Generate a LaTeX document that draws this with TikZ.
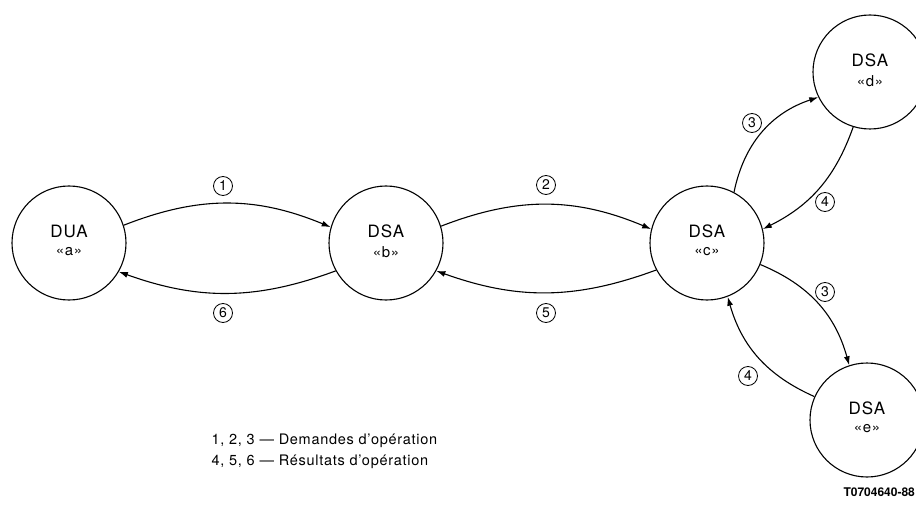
\documentclass[tikz,border=0pt]{standalone}
\usepackage{fontspec}
\setmainfont{TeX Gyre Heros}
\usetikzlibrary{arrows.meta}
\begin{document}
\begin{tikzpicture}[x=1pt,y=1pt,
  agent/.style={circle,draw,line width=1.1pt,minimum size=114pt,inner sep=0pt},
  num/.style={circle,draw,line width=0.8pt,minimum size=19pt,inner sep=0pt,font=\fontsize{14}{14}\selectfont},
  flow/.style={line width=1.1pt,-{Latex[length=9pt,width=6pt]}},
  big/.style={font=\fontsize{17}{17}\selectfont\addfontfeature{LetterSpace=6}},
  small/.style={font=\fontsize{15}{15}\selectfont\addfontfeature{LetterSpace=4}},
  legend/.style={anchor=west,font=\fontsize{14.5}{14.5}\selectfont\addfontfeature{LetterSpace=5}}]
\clip (0,0) rectangle (916,507);
\useasboundingbox (0,0) rectangle (916,507);
\node[agent] (a) at (69,264) {};
\node[agent] (b) at (386,264) {};
\node[agent] (c) at (707,264) {};
\node[agent] (d) at (870,435) {};
\node[agent] (e) at (867,87) {};
\foreach \n/\t/\s in {a/DUA/a,b/DSA/b,c/DSA/c,d/DSA/d,e/DSA/e}{
  \node[big] (\n t) at ([yshift=12pt]\n.center) {\t};
  \node[small] (\n s) at ([yshift=-9pt]\n.center) {«\s»};
}
\draw[flow] (a.18) to[bend left=22] (b.164);
\draw[flow] (b.209) to[bend left=20] (a.-30);
\draw[flow] (b.17) to[bend left=22] (c.166);
\draw[flow] (c.208) to[bend left=20] (b.-29);
\draw[flow] (c.62) to[bend left=30] (d.206);
\draw[flow] (d.253) to[bend left=22] (c.14);
\draw[flow] (c.-22) to[bend left=26] (e.108);
\draw[flow] (e.156) to[bend left=25] (c.-69);
\node[num] (n1) at (223,321) {1};
\node[num] (n6) at (223,194) {6};
\node[num] (n2) at (546,322) {2};
\node[num] (n5) at (546,194) {5};
\node[num] (n3a) at (752,384) {3};
\node[num] (n4a) at (825,305) {4};
\node[num] (n3b) at (825,215) {3};
\node[num] (n4b) at (748,131) {4};
\node[legend] (l1) at (208,66) {1, 2, 3 — Demandes d’opération};
\node[legend] (l2) at (208,45) {4, 5, 6 — Résultats d’opération};
\node[anchor=west,font=\bfseries\fontsize{12}{12}\selectfont] (ref) at (840,15) {T0704640-88};
\end{tikzpicture}
\end{document}
